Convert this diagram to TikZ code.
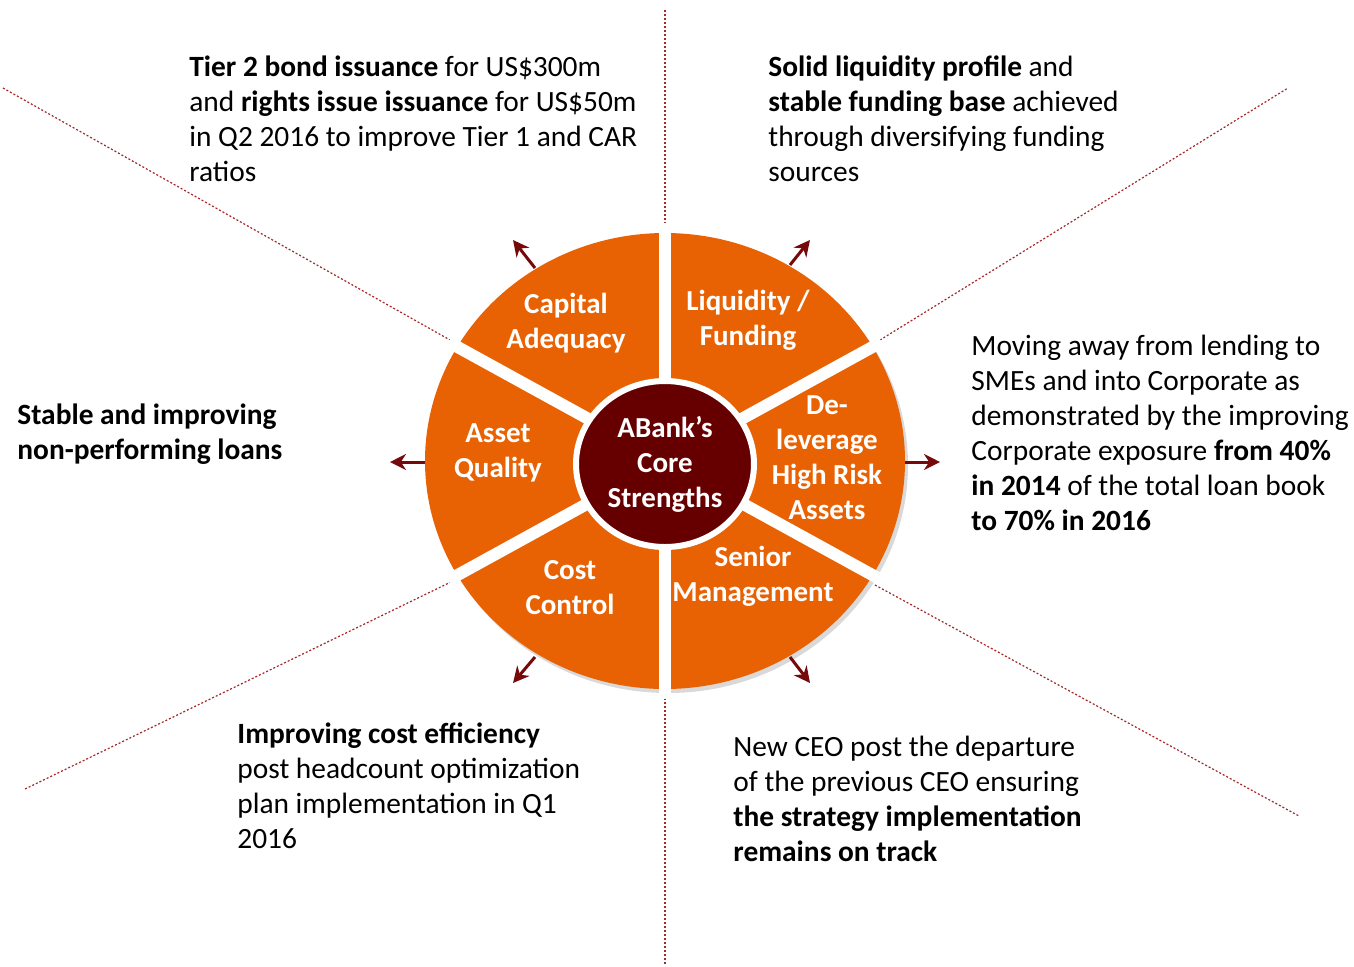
\documentclass[tikz,border=0pt]{standalone}
\usepackage{fontspec}
\setmainfont{Carlito}
\usetikzlibrary{arrows.meta,shapes.geometric}
\definecolor{wheelorange}{RGB}{232,98,4}
\definecolor{coredark}{RGB}{102,0,0}
\definecolor{spokered}{RGB}{118,10,10}
\definecolor{guidered}{RGB}{165,40,40}
\tikzset{
  sector/.style={fill=wheelorange},
  wheelshadow/.style={fill=black, opacity=0.15},
  gap/.style={draw=white, line width=6pt},
  core/.style={ellipse, fill=coredark, draw=white, line width=3pt,
    minimum width=89pt, minimum height=83pt, inner sep=0pt,
    text=white, font=\bfseries\fontsize{14.5}{17.5}\selectfont, align=center},
  seglabel/.style={text=white, font=\bfseries\fontsize{14.5}{17.5}\selectfont,
    align=center, inner sep=0pt},
  note/.style={font=\fontsize{14.7}{17.5}\selectfont, align=left,
    anchor=north west, inner sep=0pt},
  spoke/.style={draw=spokered, line width=1.5pt, -{Stealth[length=8pt,width=8pt]}},
  guide/.style={draw=guidered, line width=0.6pt, dash pattern=on 1pt off 1pt},
}
\begin{document}
\begin{tikzpicture}[x=0.5pt, y=0.5pt]
  \useasboundingbox (0,0) rectangle (1354,-966);
  \coordinate (c) at (665,-461);

  % dotted guide lines
  \coordinate (gt0) at (665,-10);   \coordinate (gt1) at (665,-232);
  \coordinate (gb0) at (665,-690);  \coordinate (gb1) at (665,-966);
  \coordinate (gul0) at (3,-88);    \coordinate (gul1) at (450,-340);
  \coordinate (gur0) at (880,-340); \coordinate (gur1) at (1288,-88);
  \coordinate (glr0) at (875,-585); \coordinate (glr1) at (1299,-816);
  \coordinate (gll0) at (455,-580); \coordinate (gll1) at (25,-789);
  \draw[guide] (gt0) -- (gt1);
  \draw[guide] (gb0) -- (gb1);
  \draw[guide] (gul0) -- (gul1);
  \draw[guide] (gur0) -- (gur1);
  \draw[guide] (glr0) -- (glr1);
  \draw[guide] (gll0) -- (gll1);

  % wheel
  \fill[wheelshadow] ([shift={(3,-4)}]c) ellipse[x radius=240, y radius=228];
  \foreach \a in {-90,-30,...,210}
    \fill[sector] (c) -- ++(\a:240 and 228)
      arc[start angle=\a, end angle=\a+60, x radius=240, y radius=228] -- cycle;
  \foreach \a in {-90,-30,...,210}
    \draw[gap] (c) -- ++(\a:250 and 238);
  \node[core] (core) at ([yshift=-1.5pt]c) {ABank’s\\Core\\Strengths};

  % sector labels
  \node[seglabel] (capital) at (566,-323) {Capital\\Adequacy};
  \node[seglabel] (liquidity) at (748,-320) {Liquidity /\\Funding};
  \node[seglabel] (deleverage) at (827,-458) {De-\\leverage\\High Risk\\Assets};
  \node[seglabel] (senior) at (753,-576) {Senior\\Management};
  \node[seglabel] (cost) at (570,-588) {Cost\\Control};
  \node[seglabel] (asset) at (498,-453) {Asset\\Quality};

  % arrows
  \coordinate (tl0) at (535,-268); \coordinate (tl1) at (513,-240);
  \coordinate (tr0) at (790,-265); \coordinate (tr1) at (810,-240);
  \coordinate (r0) at (905,-462);  \coordinate (r1) at (940,-462);
  \coordinate (br0) at (790,-657); \coordinate (br1) at (810,-683);
  \coordinate (bl0) at (535,-657); \coordinate (bl1) at (513,-683);
  \coordinate (l0) at (425,-462);  \coordinate (l1) at (390,-462);
  \draw[spoke] (tl0) -- (tl1);
  \draw[spoke] (tr0) -- (tr1);
  \draw[spoke] (r0) -- (r1);
  \draw[spoke] (br0) -- (br1);
  \draw[spoke] (bl0) -- (bl1);
  \draw[spoke] (l0) -- (l1);

  % notes
  \node[note] (capnote) at (189,-55) {\textbf{Tier 2 bond issuance} for US\$300m\\
    and \textbf{rights issue issuance} for US\$50m\\
    in Q2 2016 to improve Tier 1 and CAR\\ratios};
  \node[note] (liqnote) at (768,-55) {\textbf{Solid liquidity profile} and\\
    \textbf{stable funding base} achieved\\
    through diversifying funding\\sources};
  \node[note] (delnote) at (971,-335) {Moving away from lending to\\
    SMEs and into Corporate as\\
    demonstrated by the improving\\
    Corporate exposure \textbf{from 40\%}\\
    \textbf{in 2014} of the total loan book\\
    \textbf{to 70\% in 2016}};
  \node[note, font=\bfseries\fontsize{14.7}{17.5}\selectfont] (assetnote) at (17,-403)
    {Stable and improving\\non-performing loans};
  \node[note] (costnote) at (237,-722) {\textbf{Improving cost efficiency}\\
    post headcount optimization\\
    plan implementation in Q1\\2016};
  \node[note] (seniornote) at (733,-736) {New CEO post the departure\\
    of the previous CEO ensuring\\
    \textbf{the strategy implementation}\\
    \textbf{remains on track}};
\end{tikzpicture}
\end{document}
